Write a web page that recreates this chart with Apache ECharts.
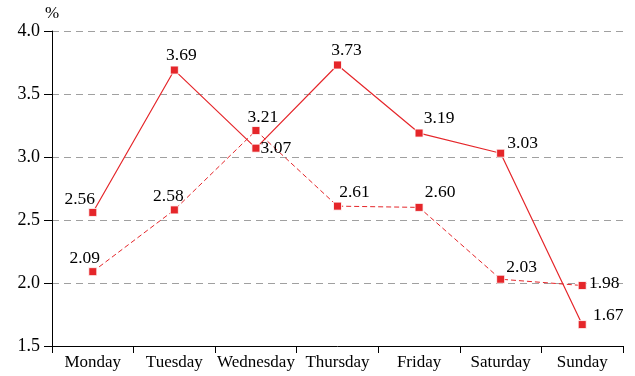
<!DOCTYPE html>
<html><head><meta charset="utf-8">
<script src="https://cdn.jsdelivr.net/npm/echarts@6/dist/echarts.min.js"></script>
<style>html,body{margin:0;padding:0;background:#fff}#c{width:635px;height:376px}</style>
</head><body><div id="c"></div>
<script>
const categories = ['Monday','Tuesday','Wednesday','Thursday','Friday','Saturday','Sunday'];
const seriesSolid = [2.56, 3.69, 3.07, 3.73, 3.19, 3.03, 1.67];
const seriesDashed = [2.09, 2.58, 3.21, 2.61, 2.60, 2.03, 1.98];
const yTicks = [1.5, 2.0, 2.5, 3.0, 3.5, 4.0];
// label offsets (placement only)
const solidLabelOffsets = [[-13,-13],[7,-15],[20,0],[9,-15],[20,-15],[22,-10],[26,-9]];
const dashedLabelOffsets = [[-8,-13],[-6,-14],[7,-13],[17,-14],[21,-15],[21,-12],[22,-2]];

const RED = '#e5262a';
const FONT = 'Liberation Serif';

function mk(values, offsets) {
  return values.map((v, i) => ({
    value: v,
    label: { show: true, position: 'inside', offset: offsets[i] }
  }));
}

const chart = echarts.init(document.getElementById('c'), null, {renderer: 'canvas'});
chart.setOption({
  animation: false,
  backgroundColor: '#fff',
  textStyle: { fontFamily: FONT },
  grid: { left: 52, right: 12, top: 31, bottom: 30, containLabel: false },
  xAxis: {
    type: 'category',
    data: categories,
    boundaryGap: true,
    axisLine: { lineStyle: { color: '#000', width: 1 } },
    axisTick: { show: true, length: 7, interval: 0, lineStyle: { color: '#000' } },
    axisLabel: { color: '#000', fontFamily: FONT, fontSize: 17, margin: 8, interval: 0 },
    splitLine: { show: false }
  },
  yAxis: {
    type: 'value',
    min: yTicks[0], max: yTicks[yTicks.length - 1], interval: 0.5,
    name: '%',
    nameGap: 7,
    nameTextStyle: { color: '#000', fontFamily: FONT, fontSize: 17, align: 'center' },
    axisLine: { show: true, lineStyle: { color: '#000', width: 1 } },
    axisTick: { show: true, length: 8, lineStyle: { color: '#000' } },
    axisLabel: { color: '#000', fontFamily: FONT, fontSize: 18, margin: 12,
      formatter: v => v.toFixed(1) },
    splitLine: { show: true, lineStyle: { color: '#a0a0a0', type: [7, 5], width: 1 } }
  },
  series: [
    {
      type: 'line', data: mk(seriesSolid, solidLabelOffsets),
      symbol: 'rect', symbolSize: 8,
      lineStyle: { color: RED, width: 1.2 },
      itemStyle: { color: RED, borderColor: '#fff', borderWidth: 0.8 },
      label: { color: '#000', fontFamily: FONT, fontSize: 17.5, formatter: p => p.value.toFixed(2) },
      z: 3
    },
    {
      type: 'line', data: mk(seriesDashed, dashedLabelOffsets),
      symbol: 'rect', symbolSize: 8,
      lineStyle: { color: RED, width: 1, type: [5, 3] },
      itemStyle: { color: RED, borderColor: '#fff', borderWidth: 0.8 },
      label: { color: '#000', fontFamily: FONT, fontSize: 17.5, formatter: p => p.value.toFixed(2) },
      z: 2
    }
  ]
});
</script></body></html>
